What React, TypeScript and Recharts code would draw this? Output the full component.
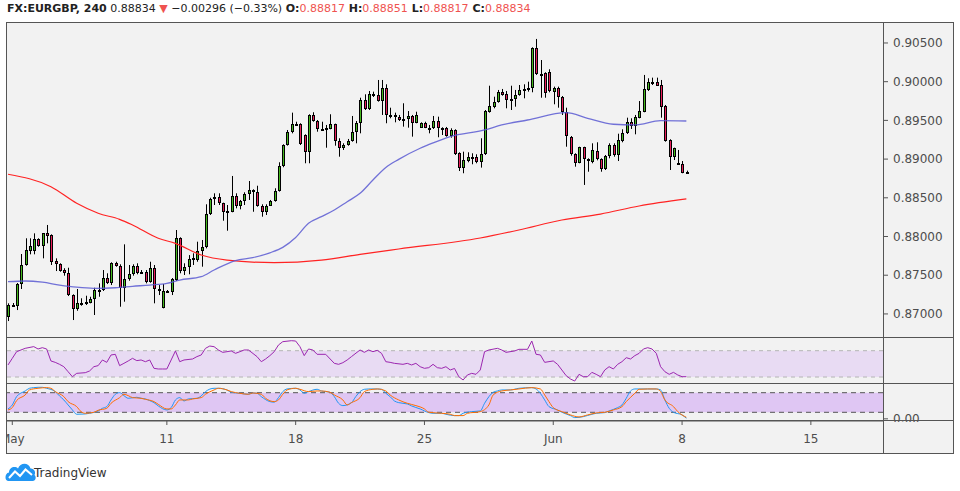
// FX:EURGBP 4h — candles with 50/200 MA, RSI and stochastic panes, TradingView-like layout.
import { ComposedChart, Bar, Line, XAxis, YAxis, ReferenceArea, ReferenceLine } from 'recharts';

// [open, high, low, close] per 4h bar
const candles: [number, number, number, number][] = [
  [0.86964, 0.87137, 0.86908, 0.87115], [0.87111, 0.87141, 0.87098, 0.87119], [0.87106, 0.87399, 0.8705, 0.87386],
  [0.87382, 0.87774, 0.87322, 0.87632], [0.87632, 0.87977, 0.87623, 0.87826], [0.87817, 0.87977, 0.8777, 0.87877],
  [0.87817, 0.88041, 0.8777, 0.87964], [0.87964, 0.87977, 0.87868, 0.87881], [0.87881, 0.88041, 0.87718, 0.88041],
  [0.88041, 0.88149, 0.87912, 0.8801], [0.88019, 0.88028, 0.87632, 0.87674], [0.87684, 0.87718, 0.87554, 0.87641],
  [0.87645, 0.87654, 0.87545, 0.87558], [0.87567, 0.8759, 0.87494, 0.87525], [0.87525, 0.87597, 0.87231, 0.8724],
  [0.87244, 0.87253, 0.86921, 0.87059], [0.87059, 0.87322, 0.87041, 0.87141], [0.87138, 0.87202, 0.87106, 0.87144],
  [0.87128, 0.87235, 0.87115, 0.8715], [0.87145, 0.87222, 0.87137, 0.87193], [0.87189, 0.87338, 0.86986, 0.87309],
  [0.87309, 0.87395, 0.87222, 0.87302], [0.87305, 0.87567, 0.87296, 0.8746], [0.8746, 0.87525, 0.87386, 0.87395],
  [0.87395, 0.87667, 0.87373, 0.87654], [0.87654, 0.87674, 0.8761, 0.87623], [0.87623, 0.87641, 0.87093, 0.87331],
  [0.87331, 0.87899, 0.87158, 0.87447], [0.87447, 0.87632, 0.87429, 0.87512], [0.87512, 0.87641, 0.87494, 0.87623],
  [0.87623, 0.87654, 0.87512, 0.87532], [0.87548, 0.87567, 0.87525, 0.87542], [0.87545, 0.87567, 0.87395, 0.87416],
  [0.87416, 0.87674, 0.87403, 0.8759], [0.8759, 0.87632, 0.87137, 0.87322], [0.87322, 0.87373, 0.87244, 0.873],
  [0.87072, 0.87386, 0.87072, 0.873], [0.873, 0.87309, 0.87283, 0.8729], [0.87287, 0.87464, 0.87244, 0.87447],
  [0.87438, 0.88084, 0.87425, 0.87977], [0.87977, 0.8799, 0.87525, 0.87554], [0.87558, 0.87654, 0.87503, 0.87602],
  [0.87602, 0.8776, 0.87512, 0.87709], [0.87692, 0.87783, 0.87632, 0.87718], [0.87692, 0.87933, 0.87674, 0.87817],
  [0.87817, 0.87955, 0.8761, 0.8786], [0.8786, 0.88416, 0.87847, 0.88287], [0.88287, 0.88501, 0.88278, 0.88485],
  [0.88481, 0.88558, 0.88407, 0.88511], [0.88511, 0.88558, 0.88407, 0.88429], [0.88429, 0.88437, 0.88204, 0.8832],
  [0.8832, 0.88407, 0.88075, 0.88327], [0.8832, 0.88782, 0.88313, 0.88523], [0.88523, 0.88558, 0.88364, 0.88398],
  [0.88398, 0.88472, 0.88351, 0.88459], [0.88459, 0.88571, 0.88407, 0.88549], [0.88549, 0.88717, 0.88472, 0.88601],
  [0.88601, 0.8861, 0.8832, 0.88571], [0.88571, 0.88656, 0.88385, 0.88398], [0.88398, 0.88416, 0.88256, 0.8832],
  [0.8832, 0.88416, 0.88278, 0.88398], [0.88398, 0.88472, 0.88394, 0.88459], [0.88459, 0.88623, 0.8845, 0.88588],
  [0.88588, 0.88959, 0.8858, 0.88911], [0.88911, 0.89191, 0.88895, 0.89178], [0.89178, 0.89376, 0.89174, 0.89354],
  [0.89346, 0.896, 0.89333, 0.8945], [0.8945, 0.89483, 0.89428, 0.89458], [0.8945, 0.89463, 0.89182, 0.89191],
  [0.89311, 0.8932, 0.88946, 0.89096], [0.89096, 0.89579, 0.88946, 0.8957], [0.8957, 0.89605, 0.89483, 0.89496],
  [0.89496, 0.89505, 0.89354, 0.89385], [0.89385, 0.89483, 0.89376, 0.89393], [0.89393, 0.89441, 0.89147, 0.89398],
  [0.89393, 0.89579, 0.89385, 0.8945], [0.8945, 0.89458, 0.89173, 0.89234], [0.89234, 0.89269, 0.89031, 0.8914],
  [0.8914, 0.89204, 0.89118, 0.89182], [0.89182, 0.8926, 0.89173, 0.89238], [0.89238, 0.89557, 0.89225, 0.89354],
  [0.89354, 0.89492, 0.89204, 0.89463], [0.89463, 0.89793, 0.89333, 0.89764], [0.89764, 0.89837, 0.89634, 0.89647],
  [0.89647, 0.8988, 0.89634, 0.89837], [0.89815, 0.89871, 0.89802, 0.89837], [0.89828, 0.90022, 0.89742, 0.89755],
  [0.89755, 0.90022, 0.8957, 0.89915], [0.89915, 0.89966, 0.89463, 0.8957], [0.8957, 0.89664, 0.89527, 0.89565],
  [0.8957, 0.896, 0.89475, 0.8954], [0.8954, 0.8957, 0.89492, 0.89505], [0.89505, 0.89721, 0.89419, 0.89514],
  [0.89514, 0.89621, 0.89406, 0.89557], [0.89557, 0.8957, 0.8929, 0.8947], [0.8947, 0.89612, 0.89463, 0.8957],
  [0.89408, 0.89475, 0.89406, 0.89463], [0.89463, 0.89483, 0.894, 0.89408], [0.89408, 0.89441, 0.89333, 0.89404],
  [0.894, 0.89557, 0.89389, 0.89492], [0.89492, 0.89548, 0.89282, 0.894], [0.894, 0.89411, 0.89311, 0.89406],
  [0.89406, 0.89415, 0.8929, 0.89303], [0.89303, 0.89398, 0.89277, 0.89376], [0.89376, 0.89385, 0.89053, 0.89066],
  [0.89075, 0.89088, 0.88846, 0.88881], [0.88881, 0.89096, 0.88817, 0.88988], [0.88975, 0.89088, 0.88959, 0.89023],
  [0.89023, 0.89075, 0.88933, 0.89031], [0.89031, 0.89062, 0.88946, 0.88967], [0.88967, 0.89269, 0.8889, 0.89062],
  [0.89062, 0.89634, 0.89053, 0.89621], [0.89612, 0.89948, 0.896, 0.89686], [0.89677, 0.89806, 0.89656, 0.89742],
  [0.89742, 0.89893, 0.89729, 0.89863], [0.89863, 0.89906, 0.89819, 0.89828], [0.89837, 0.8988, 0.89656, 0.89764],
  [0.89764, 0.89948, 0.89634, 0.89773], [0.89773, 0.89893, 0.89677, 0.89828], [0.89828, 0.89957, 0.89819, 0.89893],
  [0.89893, 0.89966, 0.89785, 0.89902], [0.89902, 0.9, 0.89871, 0.89915], [0.89915, 0.90444, 0.89863, 0.90432],
  [0.90432, 0.90552, 0.90087, 0.90096], [0.90096, 0.9028, 0.89793, 0.901], [0.90109, 0.90122, 0.89793, 0.8985],
  [0.90129, 0.9016, 0.89863, 0.8988], [0.89871, 0.89936, 0.89708, 0.89915], [0.89915, 0.89936, 0.89664, 0.89806],
  [0.89806, 0.89815, 0.8957, 0.89612], [0.89612, 0.89664, 0.8916, 0.89298], [0.89289, 0.89298, 0.89044, 0.89062],
  [0.89062, 0.89075, 0.88902, 0.88954], [0.88954, 0.8916, 0.88946, 0.89152], [0.89152, 0.8916, 0.88666, 0.88997],
  [0.88997, 0.8901, 0.88837, 0.88988], [0.88967, 0.89204, 0.88946, 0.89118], [0.89109, 0.89217, 0.88984, 0.88997],
  [0.88997, 0.8901, 0.88837, 0.88868], [0.88868, 0.89053, 0.88859, 0.8904], [0.8904, 0.89204, 0.8901, 0.89182],
  [0.89182, 0.89204, 0.89031, 0.89053], [0.89053, 0.89328, 0.88975, 0.89243], [0.89234, 0.89385, 0.89217, 0.89333],
  [0.89333, 0.89535, 0.89324, 0.89483], [0.89483, 0.89527, 0.89389, 0.89432], [0.89432, 0.8957, 0.8932, 0.89548],
  [0.89535, 0.8975, 0.89527, 0.89621], [0.89612, 0.90087, 0.89605, 0.89906], [0.89893, 0.90044, 0.8988, 0.89992],
  [0.89992, 0.90052, 0.89957, 0.89988], [0.89992, 0.90052, 0.89944, 0.89948], [0.89957, 0.90022, 0.89535, 0.89677],
  [0.89686, 0.89699, 0.89225, 0.89234], [0.89247, 0.89256, 0.88859, 0.89031], [0.89031, 0.89148, 0.88988, 0.8914],
  [0.88946, 0.89118, 0.88924, 0.8894], [0.88933, 0.88975, 0.88817, 0.88824], [0.88817, 0.88851, 0.88817, 0.88834],
];

// moving averages, read at a few bars: [bar, price]
const ma50: [number, number][] = [
  [0, 0.87416], [4, 0.87425], [8, 0.8741], [12, 0.87373], [16, 0.87345], [20, 0.87331], [25, 0.87338],
  [29, 0.87357], [33, 0.87373], [37, 0.87395], [40, 0.87438], [45, 0.87481], [48, 0.87567], [53, 0.8769],
  [57, 0.87726], [61, 0.8779], [64, 0.8786], [67, 0.87987], [70, 0.88171], [73, 0.88256], [76, 0.88342],
  [79, 0.8845], [82, 0.88558], [85, 0.8873], [88, 0.88892], [91, 0.88997], [96, 0.8914], [99, 0.89209],
  [103, 0.8929], [111, 0.89376], [115, 0.89441], [121, 0.89505], [130, 0.89599], [135, 0.89527],
  [141, 0.8945], [146, 0.89441], [152, 0.89496], [158, 0.89492],
];
const ma200: [number, number][] = [
  [0, 0.88804], [10, 0.88643], [16, 0.88429], [21, 0.883], [26, 0.88222], [29, 0.88149], [35, 0.87977],
  [39, 0.87912], [45, 0.87761], [51, 0.87696], [62, 0.87662], [73, 0.87696], [82, 0.8777], [91, 0.87839],
  [110, 0.87981], [119, 0.88084], [129, 0.88213], [138, 0.8829], [147, 0.88394], [158, 0.88485],
];

const rsi: [number, number][] = [
  [0, 48.3], [1, 58.4], [2, 68.5], [4, 73.6], [6, 76.2], [7, 72.6], [8, 74.6], [9, 72.6], [10, 54.4], [11, 52.3],
  [12, 49.3], [13, 45.7], [14, 38.1], [15, 30.5], [16, 35.6], [18, 36.6], [19, 39.2], [20, 45.7], [21, 47.3],
  [22, 55.9], [23, 52.3], [24, 63.5], [25, 64.5], [26, 47.3], [27, 50.8], [28, 54.4], [29, 58.4], [30, 54.9],
  [31, 55.9], [32, 53.3], [33, 55.9], [34, 43.2], [35, 42.2], [36, 42.2], [37, 42.2], [38, 55.9], [39, 69.6],
  [40, 53.3], [41, 55.9], [43, 57.4], [44, 61.0], [45, 63.5], [46, 73.6], [47, 77.1], [48, 76.1], [49, 71.1],
  [50, 67.5], [51, 68.5], [52, 69.6], [53, 66.0], [54, 68.5], [55, 71.1], [56, 71.1], [58, 61.0], [59, 53.3],
  [60, 57.4], [61, 62.5], [62, 68.5], [63, 78.7], [64, 83.7], [66, 85.2], [67, 84.7], [68, 76.1], [69, 62.5],
  [70, 72.6], [71, 71.1], [72, 64.5], [74, 64.5], [76, 50.8], [77, 49.3], [78, 51.8], [79, 55.9], [80, 61.0],
  [82, 71.1], [83, 67.5], [84, 71.1], [85, 68.5], [86, 70.6], [87, 66.0], [88, 53.3], [89, 52.3], [90, 50.8],
  [92, 49.3], [93, 50.8], [94, 48.3], [95, 50.8], [96, 45.7], [97, 43.2], [98, 44.2], [99, 49.3], [100, 44.2],
  [101, 43.2], [102, 45.7], [103, 40.7], [104, 43.0], [105, 30.5], [106, 25.5], [107, 33.1], [108, 35.6],
  [109, 34.1], [110, 40.7], [111, 68.5], [112, 71.1], [114, 73.6], [115, 71.1], [116, 67.5], [118, 69.6],
  [119, 72.1], [121, 72.1], [122, 84.7], [123, 64.5], [124, 63.5], [125, 52.3], [127, 54.4], [128, 49.3],
  [129, 40.7], [130, 32.1], [131, 27.0], [132, 23.9], [133, 34.1], [134, 30.5], [135, 30.5], [136, 37.1],
  [137, 34.1], [138, 30.5], [139, 40.7], [140, 45.7], [141, 42.2], [142, 49.3], [143, 53.3], [144, 59.4],
  [145, 57.4], [146, 62.5], [147, 66.0], [148, 72.6], [149, 74.6], [150, 72.6], [151, 66.0], [152, 45.7],
  [153, 38.1], [154, 34.1], [155, 37.1], [156, 33.1], [157, 30.5], [158, 30.5],
];

const stochK: [number, number][] = [
  [0, 30.3], [1, 42.5], [2, 68.0], [4, 85.3], [5, 93.5], [6, 95.5], [7, 96.5], [8, 96.5], [9, 93.5], [11, 83.3],
  [12, 70.0], [13, 57.8], [14, 42.5], [15, 27.2], [16, 14.0], [18, 15.0], [19, 17.0], [21, 24.2], [22, 32.3],
  [23, 37.4], [24, 57.8], [25, 75.1], [26, 80.2], [27, 71.0], [28, 62.9], [30, 65.9], [31, 62.9], [32, 60.9],
  [33, 55.8], [34, 49.6], [35, 39.5], [37, 27.2], [38, 34.4], [39, 57.8], [40, 64.9], [41, 54.7], [42, 60.9],
  [44, 62.9], [45, 70.0], [46, 83.3], [48, 93.5], [49, 93.5], [51, 88.4], [52, 81.2], [54, 78.2], [56, 75.1],
  [57, 79.2], [58, 78.2], [59, 68.0], [61, 52.7], [62, 51.0], [63, 64.9], [64, 83.3], [65, 91.4], [67, 93.5],
  [68, 88.4], [69, 78.2], [70, 83.3], [72, 90.4], [73, 85.3], [74, 83.3], [75, 81.2], [76, 68.0], [77, 47.6],
  [78, 40.5], [80, 49.6], [81, 68.0], [82, 83.3], [83, 90.4], [84, 91.4], [86, 91.4], [87, 90.4], [88, 78.2],
  [89, 68.0], [90, 54.7], [91, 49.6], [93, 45.6], [94, 39.5], [96, 30.3], [98, 19.1], [99, 17.0], [101, 17.0],
  [102, 14.0], [104, 9.9], [105, 9.9], [106, 17.0], [108, 22.1], [110, 24.2], [111, 47.6], [113, 81.2],
  [114, 85.3], [115, 88.4], [117, 88.4], [119, 93.5], [122, 95.5], [123, 91.4], [124, 78.2], [125, 57.8],
  [126, 37.4], [128, 27.2], [129, 20.1], [131, 9.9], [132, 3.8], [134, 6.8], [136, 14.0], [137, 17.0],
  [139, 19.1], [140, 24.2], [142, 34.4], [143, 42.5], [144, 62.9], [145, 85.3], [146, 91.4], [149, 91.4],
  [151, 91.4], [152, 88.4], [153, 57.8], [154, 32.3], [155, 20.1], [157, 12.0], [158, 1.8],
];
const stochD: [number, number][] = [
  [0, 27.2], [1, 34.4], [2, 55.8], [4, 73.1], [5, 88.4], [7, 93.5], [9, 95.5], [10, 93.5], [11, 83.3], [13, 68.0],
  [14, 52.7], [16, 37.4], [17, 22.1], [18, 17.0], [20, 20.1], [21, 26.2], [23, 32.3], [24, 47.6], [26, 64.9],
  [27, 75.1], [28, 71.0], [29, 64.9], [31, 62.9], [32, 59.8], [34, 52.7], [35, 44.5], [37, 30.3], [38, 30.3],
  [39, 42.5], [40, 57.8], [42, 57.8], [43, 60.9], [45, 64.9], [46, 75.1], [48, 88.4], [49, 93.5], [51, 88.4],
  [52, 83.3], [54, 78.2], [56, 75.1], [57, 79.2], [59, 75.1], [60, 62.9], [62, 52.7], [63, 57.8], [64, 75.1],
  [65, 88.4], [67, 93.5], [68, 90.4], [70, 83.3], [72, 85.3], [73, 85.3], [75, 81.2], [76, 73.1], [78, 57.8],
  [79, 42.5], [80, 49.6], [82, 64.9], [83, 83.3], [85, 90.4], [86, 91.4], [88, 85.3], [89, 73.1], [91, 57.8],
  [93, 47.6], [95, 40.5], [97, 30.3], [98, 20.1], [101, 17.0], [103, 14.0], [104, 9.9], [106, 9.9], [107, 17.0],
  [110, 22.1], [112, 42.5], [113, 73.1], [115, 85.3], [117, 88.4], [119, 91.4], [122, 95.5], [124, 91.4],
  [125, 73.1], [126, 52.7], [127, 34.4], [129, 22.1], [131, 12.0], [133, 5.8], [135, 12.0], [137, 18.1],
  [139, 20.1], [141, 27.2], [143, 37.4], [144, 52.7], [146, 78.2], [147, 90.4], [149, 91.4], [151, 91.4],
  [152, 83.3], [153, 57.8], [155, 37.4], [156, 22.1], [158, 4.8],
];

const dayTicks = [1, 37, 67, 97, 127, 157, 187];
const dayLabels = ['May', '11', '18', '25', 'Jun', '8', '15'];
const priceTicks = [0.87, 0.875, 0.88, 0.885, 0.89, 0.895, 0.9, 0.905];

const GREEN = '#45b81f';
const RED = '#e91e5a';
const AXIS_TXT = '#4d4d4d';
const FONT = 'DejaVu Sans';
const X_DOMAIN: [number, number] = [-0.233, 203.8];

const m50 = new Map(ma50);
const m200 = new Map(ma200);
const mRsi = new Map(rsi);
const mK = new Map(stochK);
const mD = new Map(stochD);

const rows = candles.map(([o, h, l, c], i) => ({
  i, o, h, l, c, range: [l, h],
  ma50: m50.get(i) ?? null, ma200: m200.get(i) ?? null,
  rsi: mRsi.get(i) ?? null, k: mK.get(i) ?? null, d: mD.get(i) ?? null,
}));

function Candle(props: any) {
  const { x, y, width, height, payload } = props;
  if (x == null || !payload) return null;
  const top = Math.min(y, y + height);
  const bot = Math.max(y, y + height);
  const { o, h, l, c } = payload;
  const span = h - l || 1e-9;
  const py = (p: number) => top + ((h - p) / span) * (bot - top);
  const cx = Math.round(x + width / 2) + 0.5;
  const b1 = Math.round(py(Math.max(o, c))) + 0.5;
  const b2 = Math.max(b1 + 1, Math.round(py(Math.min(o, c))) - 0.5);
  return (
    <g>
      <line x1={cx} x2={cx} y1={top} y2={bot} stroke="#000" strokeWidth={1} />
      <rect x={cx - 1} y={b1} width={2} height={b2 - b1} fill={c >= o ? GREEN : RED} stroke="#000" strokeWidth={1} />
    </g>
  );
}

const tickStyle = { fontSize: 12, fill: AXIS_TXT, fontFamily: FONT };

function Logo() {
  return (
    <svg width={120} height={26} style={{ position: 'absolute', left: 5, top: 459 }}>
      <path d="M3,22 C-0.5,22 -0.5,14 4,13.5 C4,8.5 10,6.5 13,9.5 C15,3 24,3 25.5,9.5 C29.5,9 31,13.5 29.5,16 C31.5,17.5 31,22 27.5,22 Z" fill="#2196f3" />
      <polyline points="4,19 10,12.5 15,17 20.5,10.5 27,16" fill="none" stroke="#fff" strokeWidth={2} />
      <text x={29} y={18} fontSize={12} fontFamily={FONT} fill="#333">TradingView</text>
    </svg>
  );
}

export default function App() {
  return (
    <div style={{ position: 'fixed', left: 0, top: 0, width: 960, height: 491, background: '#fff', overflow: 'hidden' }}>
      <svg width={960} height={20} style={{ position: 'absolute', left: 0, top: 0 }}>
        <text x={7} y={12} fontSize={11} fontFamily={FONT} fill="#222" style={{ whiteSpace: 'pre' }}>
          <tspan fontWeight="bold">FX:EURGBP, 240</tspan>
          <tspan> 0.88834 </tspan>
          <tspan fill="#ef5350">▼</tspan>
          <tspan> −0.00296 (−0.33%) </tspan>
          <tspan fontWeight="bold">O:</tspan><tspan fill="#ef5350">0.88817</tspan>
          <tspan fontWeight="bold"> H:</tspan><tspan fill="#ef5350">0.88851</tspan>
          <tspan fontWeight="bold"> L:</tspan><tspan fill="#ef5350">0.88817</tspan>
          <tspan fontWeight="bold"> C:</tspan><tspan fill="#ef5350">0.88834</tspan>
        </text>
      </svg>

      <div style={{ position: 'absolute', left: 7, top: 23, width: 946, height: 431, background: '#f2f2f2' }} />

      {/* price pane */}
      <div style={{ position: 'absolute', left: 7, top: 23 }}>
        <ComposedChart width={946} height={315} data={rows} margin={{ top: 0, right: 0, bottom: 0, left: 0 }}>
          <XAxis dataKey="i" type="number" domain={X_DOMAIN} allowDataOverflow hide />
          <YAxis orientation="right" width={70} domain={[0.86689, 0.90758]} allowDataOverflow ticks={priceTicks}
            tickFormatter={(v: number) => v.toFixed(5)} tick={tickStyle} tickSize={5} tickMargin={5}
            tickLine={{ stroke: '#555' }} axisLine={false} interval={0} />
          <Line dataKey="ma200" type="monotone" stroke="#ff2323" strokeWidth={1.2} dot={false} connectNulls isAnimationActive={false} />
          <Line dataKey="ma50" type="monotone" stroke="#5a5ad2" strokeOpacity={0.85} strokeWidth={1.3} dot={false} connectNulls isAnimationActive={false} />
          <Bar dataKey="range" barSize={3} shape={<Candle />} isAnimationActive={false} />
        </ComposedChart>
      </div>

      {/* RSI pane */}
      <div style={{ position: 'absolute', left: 7, top: 338 }}>
        <ComposedChart width={946} height={46} data={rows} margin={{ top: 0, right: 0, bottom: 0, left: 0 }}>
          <XAxis dataKey="i" type="number" domain={X_DOMAIN} allowDataOverflow hide />
          <YAxis orientation="right" width={70} domain={[19.4, 89.3]} allowDataOverflow tick={false} tickLine={false} axisLine={false} />
          <ReferenceArea y1={30} y2={70} fill="#e8dbf3" fillOpacity={1} stroke="none" />
          <ReferenceLine y={70} stroke="#b4b4b4" strokeDasharray="4 4" />
          <ReferenceLine y={30} stroke="#b4b4b4" strokeDasharray="4 4" />
          <Line dataKey="rsi" type="linear" stroke="#9c27b0" strokeWidth={1} dot={false} connectNulls isAnimationActive={false} />
        </ComposedChart>
      </div>

      {/* stochastic pane + time axis */}
      <div style={{ position: 'absolute', left: 7, top: 384 }}>
        <ComposedChart width={946} height={70} data={rows} margin={{ top: 0, right: 0, bottom: 0, left: 0 }}>
          <XAxis dataKey="i" type="number" domain={X_DOMAIN} allowDataOverflow ticks={dayTicks} interval={0}
            tickFormatter={(v: number) => dayLabels[dayTicks.indexOf(v)] ?? ''} height={33}
            tick={tickStyle} tickSize={4} tickMargin={9} tickLine={{ stroke: '#555' }} axisLine={{ stroke: '#555' }} />
          <YAxis orientation="right" width={70} domain={[-6.6, 106.6]} allowDataOverflow ticks={[0]}
            tickFormatter={(v: number) => v.toFixed(2)} tick={tickStyle} tickSize={5} tickMargin={5}
            tickLine={{ stroke: '#555' }} axisLine={false} />
          <ReferenceArea y1={20} y2={80} fill="#dfc6f3" fillOpacity={1} stroke="none" />
          <ReferenceLine y={80} stroke="#555" strokeDasharray="5 4" />
          <ReferenceLine y={20} stroke="#555" strokeDasharray="5 4" />
          <Line dataKey="k" type="monotone" stroke="#2196f3" strokeWidth={1} dot={false} connectNulls isAnimationActive={false} />
          <Line dataKey="d" type="monotone" stroke="#ff6d00" strokeWidth={1} dot={false} connectNulls isAnimationActive={false} />
        </ComposedChart>
      </div>

      {/* frame and pane dividers */}
      <svg width={960} height={491} style={{ position: 'absolute', left: 0, top: 0, pointerEvents: 'none' }}>
        <rect x={884} y={422} width={69} height={31.5} fill="#f2f2f2" />
        <rect x={6.5} y={22.5} width={947} height={431} fill="none" stroke="#555" />
        <line x1={7} x2={953} y1={337.5} y2={337.5} stroke="#555" />
        <line x1={7} x2={953} y1={383.5} y2={383.5} stroke="#555" />
        <line x1={7} x2={953} y1={420.5} y2={420.5} stroke="#555" />
        <line x1={883.5} x2={883.5} y1={23} y2={454} stroke="#555" />
      </svg>

      <Logo />
    </div>
  );
}
